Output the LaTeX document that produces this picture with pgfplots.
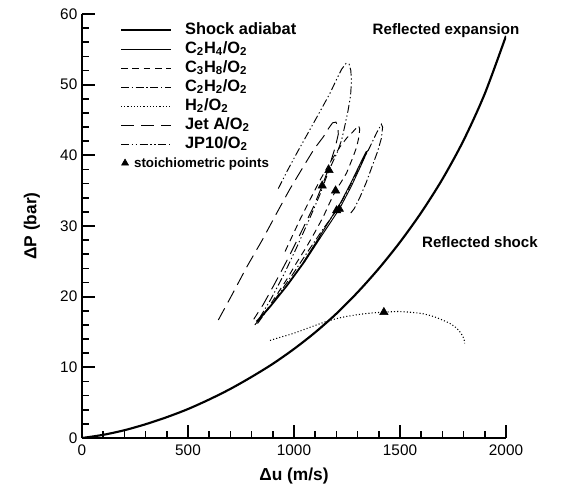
\documentclass[border=0pt]{standalone}
\usepackage{pgfplots}
\pgfplotsset{compat=1.18}
\usepackage{fontspec}
\setmainfont{Liberation Sans}
\begin{document}
\begin{tikzpicture}
\begin{axis}[
  at={(0,0)}, anchor=south west,
  scale only axis, width=318pt, height=318pt,
  xmin=0, xmax=2000, ymin=0, ymax=60,
  clip mode=individual,
  axis lines=left,
  axis line style={-, line width=1.5pt},
  xtick={0,500,1000,1500,2000}, ytick={0,10,20,30,40,50,60},
  xticklabels={0,500,1000,1500,2000}, yticklabels={0,10,20,30,40,50,60},
  minor x tick num=4, minor y tick num=4,
  tick align=inside,
  major tick length=10pt, minor tick length=5pt,
  tick style={black, line width=1.3pt},
  tick label style={font=\fontsize{11.5}{13}\selectfont},
  xticklabel style={yshift=-1.5pt},
  xlabel={Δu (m/s)}, ylabel={ΔP (bar)},
  xlabel style={at={(axis description cs:0.5,-0.09)}, anchor=center, font=\fontsize{13}{15}\selectfont\bfseries},
  ylabel style={at={(axis description cs:-0.118,0.5)}, anchor=center, font=\fontsize{13}{15}\selectfont\bfseries},
  legend style={at={(axis description cs:0.0896,0.981)}, anchor=north west, draw=none, fill=none,
    inner sep=0pt, outer sep=0pt, row sep=2.25pt, column sep=9.75pt,
    nodes={inner sep=0pt, text height=9pt, text depth=3pt},
    font=\fontsize{12.3}{14}\selectfont\bfseries},
  legend cell align=left,
  legend image code/.code={\draw[#1] (0pt,0pt) -- (37.5pt,0pt);},
]
% Shock adiabat
\addplot[black, line width=1.6pt, mark=none, smooth] coordinates {
(0,0) (100,0.45) (200,1.1) (300,1.95) (400,2.95) (500,4.1) (600,5.45) (700,6.95)
(800,8.65) (900,10.5) (1000,12.6) (1100,14.95) (1200,17.6) (1300,20.62) (1400,23.98)
(1500,27.72) (1600,31.9) (1700,36.63) (1800,42.13) (1900,48.73) (2000,56.9)};
\addlegendentry{Shock adiabat}
% C2H4/O2
\addplot[black, line width=0.7pt, mark=none] coordinates {
(815,16.0) (890,18.6) (970,21.6) (1050,24.9) (1130,28.6) (1214,32.4) (1270,35.6) (1315,38.5)
(1340,40.2) (1346,40.6) (1340,40.5) (1320,39.3) (1270,36.2) (1220,33.3) (1170,30.9) (1110,28.0)
(1040,24.7) (960,21.4) (885,18.6) (822,16.5)};
\addlegendentry{C\textsubscript{2}H\textsubscript{4}/O\textsubscript{2}}
% C3H8/O2
\addplot[black, line width=0.7pt, mark=none, dash pattern=on 5pt off 3.5pt] coordinates {
(958,26.4) (1028,30.9) (1075,33.7) (1123,36.5) (1170,39.0) (1217,41.2) (1250,42.5) (1280,43.4)
(1295,43.9) (1305,44.2) (1310,43.7) (1306,42.6) (1296,41.2) (1275,39.5) (1248,37.5) (1220,36.1)
(1196,35.0) (1170,33.4) (1138,31.3) (1100,29.2) (1060,27.1) (1010,24.7) (965,22.4) (915,20.1)
(871,18.1) (820,16.1)};
\addlegendentry{C\textsubscript{3}H\textsubscript{8}/O\textsubscript{2}}
% C2H2/O2
\addplot[black, line width=0.7pt, mark=none, dash pattern=on 6pt off 2pt on 1pt off 2pt] coordinates {
(828,16.2) (910,19.6) (990,23.0) (1070,26.6) (1140,29.7) (1201,32.2) (1260,35.4) (1310,38.4)
(1355,41.0) (1390,43.2) (1412,44.4) (1418,44.0) (1412,42.4) (1395,40.6) (1368,38.4) (1340,36.1)
(1310,34.0) (1285,32.5) (1262,31.6)};
\addlegendentry{C\textsubscript{2}H\textsubscript{2}/O\textsubscript{2}}
% H2/O2
\addplot[black, line width=0.8pt, mark=none, smooth, dash pattern=on 0.8pt off 1.6pt] coordinates {
(887,13.8) (940,14.3) (997,14.8) (1070,15.6) (1154,16.5) (1230,17.1) (1311,17.5) (1370,17.7)
(1424,17.8) (1490,17.9) (1547,17.8) (1605,17.6) (1657,17.2) (1700,16.7) (1736,16.2) (1765,15.6)
(1783,15.0) (1796,14.4) (1802,14.0) (1805,13.4)};
\addlegendentry{H\textsubscript{2}/O\textsubscript{2}}
% Jet A/O2
\addplot[black, line width=0.7pt, mark=none, dash pattern=on 10pt off 5pt] coordinates {
(643,16.7) (710,20.4) (777,24.2) (850,28.0) (918,31.8) (980,35.2) (1044,38.4) (1095,40.9)
(1138,42.6) (1165,43.9) (1182,44.6) (1198,44.7) (1207,44.0) (1209,43.0) (1195,41.2) (1165,38.3)
(1133,35.7) (1090,32.6) (1030,28.9) (970,25.3) (910,21.9) (855,18.9) (810,16.8)};
\addlegendentry{Jet A/O\textsubscript{2}}
% JP10/O2
\addplot[black, line width=0.7pt, mark=none, dash pattern=on 6pt off 2pt on 1pt off 2pt on 1pt off 2pt] coordinates {
(926,35.3) (970,37.9) (1013,40.3) (1052,42.4) (1091,44.5) (1130,46.6) (1170,48.8) (1200,50.7)
(1225,52.2) (1245,53.0) (1260,52.9) (1268,52.0) (1271,50.5) (1267,48.5) (1256,46.5) (1240,44.2)
(1225,42.2) (1205,40.5) (1185,39.2) (1165,37.9) (1123,34.5) (1070,30.8) (1010,26.8) (950,23.0)
(890,19.6) (830,16.6)};
\addlegendentry{JP10/O\textsubscript{2}}
% stoichiometric points
\addplot[black, only marks, mark=triangle*, mark size=3.6pt,
  legend image code/.code={\path plot[mark=triangle*, mark size=3pt, mark options={fill=black, draw=black}] coordinates {(3pt,0pt)};}]
  coordinates {(1165,37.9) (1133,35.7) (1196,35.0) (1214,32.4) (1201,32.2) (1424,17.8)};
\addlegendentry{\hspace*{-38.25pt}{\fontsize{10}{12}\selectfont stoichiometric points}}
\node[font=\fontsize{11.3}{13}\selectfont\bfseries] at (axis cs:1717,57.7) {Reflected expansion};
\node[font=\fontsize{11.3}{13}\selectfont\bfseries] at (axis cs:1877,27.7) {Reflected shock};
\end{axis}
\pgfresetboundingbox
\path[use as bounding box] (-61.5pt,-41.25pt) rectangle (363pt,328.5pt);
\end{tikzpicture}
\end{document}
